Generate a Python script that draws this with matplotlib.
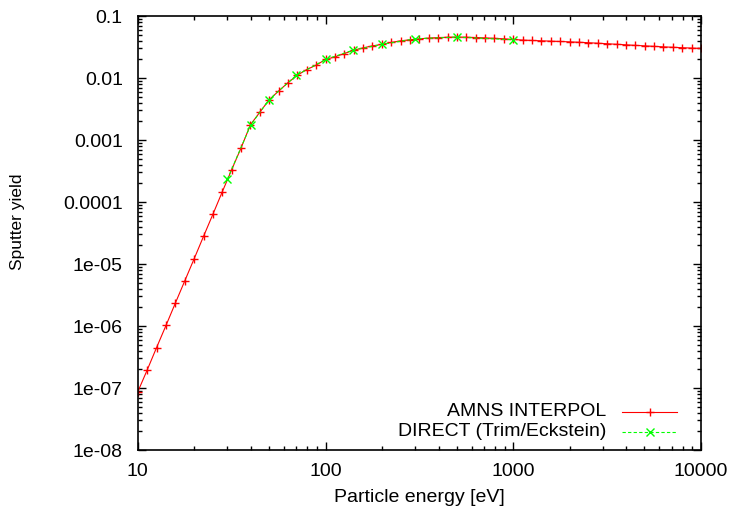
import matplotlib
matplotlib.use("Agg")
import matplotlib.pyplot as plt
from matplotlib.ticker import LogLocator, NullFormatter, FixedLocator, FixedFormatter

plt.rcParams['font.family'] = ['Liberation Sans', 'DejaVu Sans']

# AMNS INTERPOL series
amns_energy = [10, 11.22, 12.59, 14.13, 15.85, 17.78, 19.95, 22.39, 25.12, 28.18,
               31.62, 35.48, 39.81, 44.67, 50.12, 56.23, 63.10, 70.79, 79.43, 89.13,
               100, 112.2, 125.9, 141.3, 158.5, 177.8, 199.5, 223.9, 251.2, 281.8,
               316.2, 354.8, 398.1, 446.7, 501.2, 562.3, 631.0, 707.9, 794.3, 891.3,
               1000, 1122, 1259, 1413, 1585, 1778, 1995, 2239, 2512, 2818,
               3162, 3548, 3981, 4467, 5012, 5623, 6310, 7079, 7943, 8913, 10000]
amns_yield = [8.7e-8, 1.95e-7, 4.49e-7, 1.02e-6, 2.34e-6, 5.32e-6, 1.21e-5, 2.79e-5, 6.34e-5, 1.46e-4,
              3.31e-4, 7.45e-4, 1.76e-3, 2.81e-3, 4.47e-3, 6.15e-3, 8.41e-3, 1.11e-2, 1.37e-2, 1.61e-2,
              1.99e-2, 2.19e-2, 2.48e-2, 2.81e-2, 3.06e-2, 3.30e-2, 3.48e-2, 3.75e-2, 3.98e-2, 4.13e-2,
              4.28e-2, 4.40e-2, 4.49e-2, 4.54e-2, 4.57e-2, 4.55e-2, 4.50e-2, 4.43e-2, 4.36e-2, 4.28e-2,
              4.18e-2, 4.09e-2, 4.03e-2, 3.98e-2, 3.93e-2, 3.88e-2, 3.83e-2, 3.77e-2, 3.71e-2, 3.64e-2,
              3.57e-2, 3.50e-2, 3.43e-2, 3.36e-2, 3.30e-2, 3.24e-2, 3.18e-2, 3.13e-2, 3.08e-2, 3.04e-2, 3.00e-2]

# DIRECT (Trim/Eckstein) series
direct_energy = [30, 40, 50, 70, 100, 140, 200, 300, 500, 1000]
direct_yield = [2.34e-4, 1.76e-3, 4.47e-3, 1.11e-2, 1.99e-2, 2.81e-2, 3.48e-2, 4.29e-2, 4.57e-2, 4.13e-2]

y_ticks = [1e-8, 1e-7, 1e-6, 1e-5, 1e-4, 1e-3, 1e-2, 1e-1]
y_labels = ["1e-08", "1e-07", "1e-06", "1e-05", "0.0001", "0.001", "0.01", "0.1"]
x_ticks = [10, 100, 1000, 10000]
x_labels = ["10", "100", "1000", "10000"]

FS = 14
W, H = 735, 511
L, R, T, B = 137.8, 701.0, 16.0, 450.0
fig = plt.figure(figsize=(W / 100, H / 100), dpi=100)
ax = fig.add_axes([L / W, 1 - B / H, (R - L) / W, (B - T) / H])

red_style = dict(color='#ff0000', lw=0.8, marker='+', ms=6, mew=1.0)
green_style = dict(color='#00ff00', lw=0.8, ls=(0, (3, 2)), marker='x', ms=5.5, mew=1.0)

ax.plot(amns_energy, amns_yield, **red_style)
ax.plot(direct_energy, direct_yield, **green_style)

ax.set_xscale('log')
ax.set_yscale('log')
ax.set_xlim(10, 10000)
ax.set_ylim(1e-8, 0.1)

ax.xaxis.set_major_locator(FixedLocator(x_ticks))
ax.xaxis.set_major_formatter(FixedFormatter(x_labels))
ax.yaxis.set_major_locator(FixedLocator(y_ticks))
ax.yaxis.set_major_formatter(FixedFormatter(y_labels))
ax.xaxis.set_minor_locator(LogLocator(base=10, subs=range(2, 10), numticks=20))
ax.yaxis.set_minor_locator(LogLocator(base=10, subs=range(2, 10), numticks=20))
ax.xaxis.set_minor_formatter(NullFormatter())
ax.yaxis.set_minor_formatter(NullFormatter())

ax.tick_params(which='both', direction='in', top=True, right=True, labelsize=FS, colors='black')
ax.tick_params(which='major', length=6, width=1.0)
ax.tick_params(which='minor', length=3, width=1.0)
ax.tick_params(axis='y', which='major', pad=10.8)
ax.tick_params(axis='x', which='major', pad=9)
for s in ax.spines.values():
    s.set_linewidth(1.2)

def px2ax(x, y):
    return ((x - L) / (R - L), (B - y) / (B - T))

ax.set_xlabel("Particle energy [eV]", fontsize=FS)
ax.xaxis.label.set_va('center')
ax.xaxis.set_label_coords(*px2ax((L + R) / 2, 497))
ax.set_ylabel("Sputter yield", fontsize=12.5)
ax.yaxis.label.set_va('center')
ax.yaxis.set_label_coords(*px2ax(17.5, 222))

# gnuplot-style key: right-aligned text, sample on the right
entries = [("AMNS INTERPOL", 411.7, red_style),
           ("DIRECT (Trim/Eckstein)", 431.7, green_style)]
for label, ypx, style in entries:
    tx, ty = px2ax(606, ypx)
    ax.text(tx, ty, label, transform=ax.transAxes, ha='right', va='center', fontsize=FS)
    x0, yy = px2ax(622, ypx)
    x1, _ = px2ax(677, ypx)
    xm, _ = px2ax(649.5, ypx)
    st = dict(style)
    mk = st.pop('marker'); ms = st.pop('ms'); mew = st.pop('mew')
    ax.plot([x0, x1], [yy, yy], transform=ax.transAxes, clip_on=False, **st)
    ax.plot([xm], [yy], transform=ax.transAxes, clip_on=False, marker=mk, ms=ms, mew=mew,
            color=st['color'], ls='none')

fig.savefig("out.png", dpi=100)
